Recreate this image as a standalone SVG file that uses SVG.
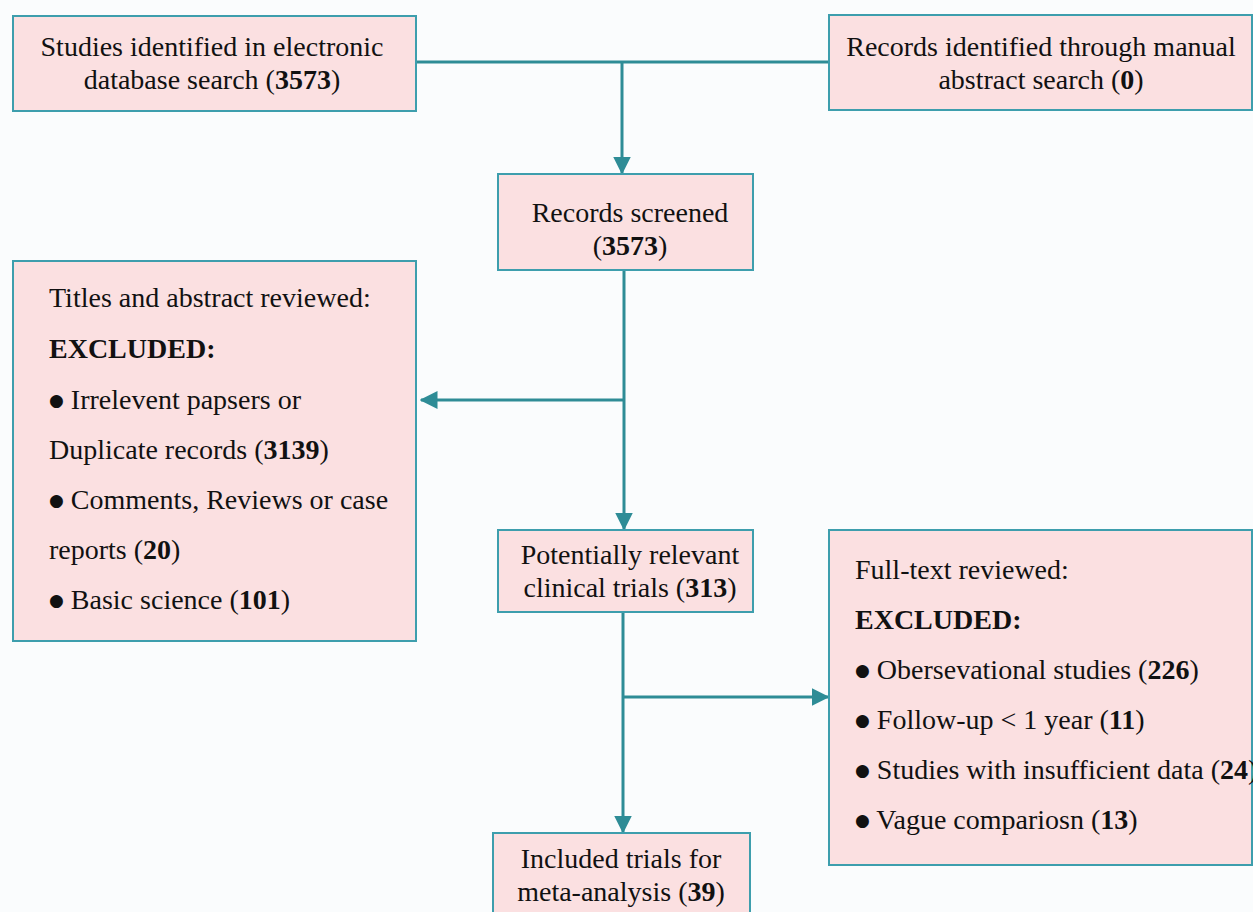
<svg xmlns="http://www.w3.org/2000/svg" width="1253" height="912" viewBox="0 0 1253 912">
<defs>
<style>
.box{fill:#fbe0e1;stroke:#3d9ead;stroke-width:2}
.t{font-family:"Liberation Serif","Times New Roman",serif;font-size:28px;fill:#111}
.c{text-anchor:middle}
.b{font-weight:bold}
.bl{font-family:"DejaVu Sans",sans-serif;font-size:17px}
.ln{stroke:#2e8c96;stroke-width:3;fill:none}
</style>
<marker id="ah" markerWidth="6" markerHeight="6" refX="5.5" refY="3" orient="auto" markerUnits="strokeWidth">
<path d="M0,0 L6,3 L0,6 Z" fill="#2e8c96"/>
</marker>
</defs>
<rect width="1253" height="912" fill="#fafcfd"/>
<g id="connectors">
<path class="ln" d="M416,62 H829"/>
<path class="ln" d="M622,62 V173" marker-end="url(#ah)"/>
<path class="ln" d="M624,270 V529" marker-end="url(#ah)"/>
<path class="ln" d="M624,400 H421" marker-end="url(#ah)"/>
<path class="ln" d="M623,612 V832" marker-end="url(#ah)"/>
<path class="ln" d="M623,697 H828" marker-end="url(#ah)"/>
</g>
<g id="n1">
<rect class="box" x="13" y="16" width="403" height="95"/>
<text class="t c" x="212" y="56">Studies identified in electronic</text>
<text class="t c" x="212" y="89">database search (<tspan class="b">3573</tspan>)</text>
</g>
<g id="n2">
<rect class="box" x="829" y="15" width="423" height="95"/>
<text class="t c" x="1041" y="56">Records identified through manual</text>
<text class="t c" x="1041" y="89">abstract search (<tspan class="b">0</tspan>)</text>
</g>
<g id="n3">
<rect class="box" x="498" y="174" width="255" height="96"/>
<text class="t c" x="630" y="222">Records screened</text>
<text class="t c" x="630" y="255">(<tspan class="b">3573</tspan>)</text>
</g>
<g id="n4">
<rect class="box" x="13" y="261" width="403" height="380"/>
<text class="t" x="49" y="307">Titles and abstract reviewed:</text>
<text class="t b" x="49" y="358">EXCLUDED:</text>
<text class="t" x="49" y="409"><tspan class="bl" dy="-3">●</tspan><tspan dy="3"> Irrelevent papsers or</tspan></text>
<text class="t" x="49" y="459">Duplicate records (<tspan class="b">3139</tspan>)</text>
<text class="t" x="49" y="509"><tspan class="bl" dy="-3">●</tspan><tspan dy="3"> Comments, Reviews or case</tspan></text>
<text class="t" x="49" y="559">reports (<tspan class="b">20</tspan>)</text>
<text class="t" x="49" y="609"><tspan class="bl" dy="-3">●</tspan><tspan dy="3"> Basic science (</tspan><tspan class="b">101</tspan>)</text>
</g>
<g id="n5">
<rect class="box" x="498" y="530" width="255" height="82"/>
<text class="t c" x="630" y="564">Potentially relevant</text>
<text class="t c" x="630" y="597">clinical trials (<tspan class="b">313</tspan>)</text>
</g>
<g id="n6">
<rect class="box" x="829" y="530" width="423" height="335"/>
<text class="t" x="855" y="579">Full-text reviewed:</text>
<text class="t b" x="855" y="629">EXCLUDED:</text>
<text class="t" x="855" y="679"><tspan class="bl" dy="-3">●</tspan><tspan dy="3"> Obersevational studies (</tspan><tspan class="b">226</tspan>)</text>
<text class="t" x="855" y="729"><tspan class="bl" dy="-3">●</tspan><tspan dy="3"> Follow-up &lt; 1 year (</tspan><tspan class="b">11</tspan>)</text>
<text class="t" x="855" y="779"><tspan class="bl" dy="-3">●</tspan><tspan dy="3"> Studies with insufficient data (</tspan><tspan class="b">24</tspan>)</text>
<text class="t" x="855" y="829"><tspan class="bl" dy="-3">●</tspan><tspan dy="3"> Vague compariosn (</tspan><tspan class="b">13</tspan>)</text>
</g>
<g id="n7">
<rect class="box" x="493" y="833" width="257" height="90"/>
<text class="t c" x="621" y="868">Included trials for</text>
<text class="t c" x="621" y="901">meta-analysis (<tspan class="b">39</tspan>)</text>
</g>
</svg>
